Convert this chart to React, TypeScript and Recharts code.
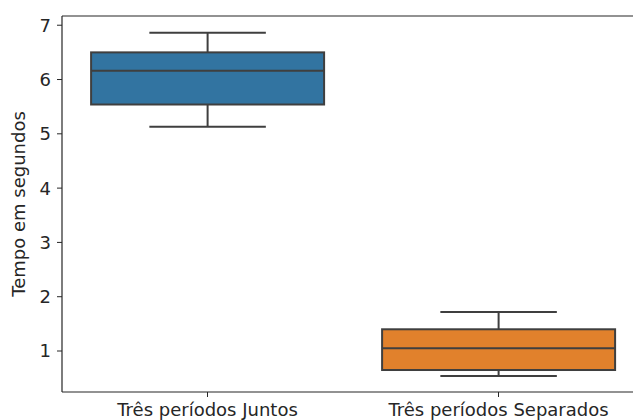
import { ComposedChart, Bar, XAxis, YAxis, Cell, ReferenceLine } from "recharts";

const categories = ["Três períodos Juntos", "Três períodos Separados"];
const mins = [5.13, 0.54];
const q1s = [5.54, 0.65];
const medians = [6.16, 1.05];
const q3s = [6.5, 1.4];
const maxs = [6.86, 1.72];
const yTicks = [1, 2, 3, 4, 5, 6, 7];
const Y_MIN = 0.245;
const Y_MAX = 7.17;

const COLORS = ["#3274a1", "#e1812c"];
const LINE = "#3f3f3f";
const AXIS = "#262626";
const FONT = "DejaVu Sans, sans-serif";

const data = categories.map((name, i) => ({
  name,
  range: [mins[i], maxs[i]],
  q1: q1s[i],
  median: medians[i],
  q3: q3s[i],
}));

// draws one box + whiskers inside the [min, max] rect that the bar gives us
function BoxShape(props: any) {
  const { x, y, width, height, payload, fill } = props;
  const [lo, hi] = payload.range;
  const toY = (v: number) => y + ((hi - v) / (hi - lo)) * height;
  const cx = x + width / 2;
  const capW = width / 2;
  const yQ1 = toY(payload.q1);
  const yQ3 = toY(payload.q3);
  const yMed = toY(payload.median);
  const yMin = y + height;
  const yMax = y;
  return (
    <g stroke={LINE} strokeWidth={2}>
      <line x1={cx} x2={cx} y1={yMax} y2={yQ3} />
      <line x1={cx} x2={cx} y1={yQ1} y2={yMin} />
      <line x1={cx - capW / 2} x2={cx + capW / 2} y1={yMax} y2={yMax} />
      <line x1={cx - capW / 2} x2={cx + capW / 2} y1={yMin} y2={yMin} />
      <rect x={x} y={yQ3} width={width} height={yQ1 - yQ3} fill={fill} />
      <line x1={x} x2={x + width} y1={yMed} y2={yMed} />
    </g>
  );
}

function YLabel(props: any) {
  const { viewBox } = props;
  const cx = viewBox.x + 25;
  const cy = viewBox.y + viewBox.height / 2;
  return (
    <text
      x={cx}
      y={cy}
      transform={`rotate(-90, ${cx}, ${cy})`}
      textAnchor="middle"
      fontFamily={FONT}
      fontSize={18}
      fill={AXIS}
    >
      Tempo em segundos
    </text>
  );
}

export default function App() {
  // plot runs past the right edge, like the cropped original
  return (
    <div
      style={{
        position: "absolute",
        left: 0,
        top: 0,
        width: 633,
        height: 420,
        overflow: "hidden",
        background: "#fff",
      }}
    >
      <ComposedChart
        width={645}
        height={420}
        data={data}
        margin={{ top: 16, right: 1, bottom: 0, left: 0 }}
        barCategoryGap="10%"
      >
        <XAxis
          dataKey="name"
          height={28}
          tickSize={5}
          tickMargin={6}
          tick={{ fontFamily: FONT, fontSize: 18, fill: AXIS }}
          axisLine={{ stroke: AXIS, strokeWidth: 1.2 }}
          tickLine={{ stroke: AXIS }}
        />
        <YAxis
          width={62}
          domain={[Y_MIN, Y_MAX]}
          ticks={yTicks}
          allowDataOverflow
          tickSize={5}
          tickMargin={6}
          tick={{ fontFamily: FONT, fontSize: 18, fill: AXIS }}
          axisLine={{ stroke: AXIS, strokeWidth: 1.2 }}
          tickLine={{ stroke: AXIS }}
          label={<YLabel />}
        />
        <ReferenceLine y={Y_MAX} stroke={AXIS} strokeWidth={1.2} ifOverflow="extendDomain" />
        <Bar dataKey="range" shape={<BoxShape />} isAnimationActive={false}>
          {data.map((_, i) => (
            <Cell key={i} fill={COLORS[i]} />
          ))}
        </Bar>
      </ComposedChart>
    </div>
  );
}
